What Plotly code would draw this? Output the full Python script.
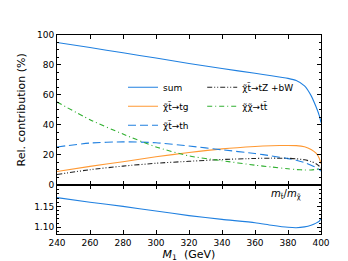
import plotly.graph_objects as go
from plotly.subplots import make_subplots

# M1 grid (GeV)
m1 = [240, 260, 280, 300, 320, 340, 360, 370, 380, 385, 390, 394, 397, 399, 400]

# relative contributions (%)
sum_pct = [95.0, 91.6, 88.1, 84.6, 81.0, 77.6, 74.4, 72.8, 71.0, 69.6, 66.0, 59.5, 52.0, 46.0, 41.5]
tg_pct = [8.8, 12.2, 15.3, 18.6, 21.5, 23.9, 25.5, 26.0, 26.2, 26.1, 25.3, 23.5, 21.0, 17.5, 14.0]
th_pct = [25.2, 27.8, 28.6, 28.0, 25.8, 23.3, 20.8, 19.2, 17.4, 16.3, 14.8, 13.0, 11.4, 10.0, 9.0]
tzbw_pct = [6.8, 10.0, 12.4, 14.3, 15.6, 16.8, 17.5, 17.7, 17.6, 17.3, 16.6, 15.5, 14.0, 12.3, 11.0]
tt_pct = [55.2, 43.4, 33.8, 25.2, 19.2, 16.0, 13.0, 11.8, 10.6, 10.1, 9.8, 9.8, 10.2, 10.6, 11.0]

# stop / neutralino mass ratio
ratio = [1.171, 1.160, 1.150, 1.139, 1.128, 1.119, 1.111, 1.105, 1.100, 1.099, 1.101, 1.105, 1.110, 1.115, 1.121]

BLUE = '#2080e0'
ORANGE = '#ff9933'
GREEN = '#30b030'
FONT = 'DejaVu Sans'

fig = make_subplots(rows=2, cols=1, shared_xaxes=True, vertical_spacing=0,
                    row_heights=[0.752, 0.248])

fig.add_trace(go.Scatter(x=m1, y=sum_pct, mode='lines', name='sum',
                         line=dict(color=BLUE, width=1.1, shape='spline', smoothing=0.6),
                         legend='legend'), row=1, col=1)
fig.add_trace(go.Scatter(x=m1, y=tg_pct, mode='lines', name='χ̃t̃→tg',
                         line=dict(color=ORANGE, width=1.1, shape='spline', smoothing=0.6),
                         legend='legend'), row=1, col=1)
fig.add_trace(go.Scatter(x=m1, y=th_pct, mode='lines', name='χ̃t̃→th',
                         line=dict(color=BLUE, width=1.1, dash='8px,4px', shape='spline', smoothing=0.6),
                         legend='legend'), row=1, col=1)
fig.add_trace(go.Scatter(x=m1, y=tzbw_pct, mode='lines', name='χ̃t̃→tZ +bW',
                         line=dict(color='#222222', width=1.1, dash='5px,2px,1px,2px,1px,2px',
                                   shape='spline', smoothing=0.6),
                         legend='legend2'), row=1, col=1)
fig.add_trace(go.Scatter(x=m1, y=tt_pct, mode='lines', name='χ̃χ̃→tt̄',
                         line=dict(color=GREEN, width=1.1, dash='5px,3px,1px,3px', shape='spline', smoothing=0.6),
                         legend='legend2'), row=1, col=1)

fig.add_trace(go.Scatter(x=m1, y=ratio, mode='lines', showlegend=False,
                         line=dict(color=BLUE, width=1.1, shape='spline', smoothing=0.6)), row=2, col=1)

axis_common = dict(showline=True, linecolor='black', linewidth=1, mirror='allticks',
                   ticks='inside', ticklen=4, tickcolor='black', showgrid=False, zeroline=False,
                   tickfont=dict(family=FONT, size=9, color='black'))

fig.update_xaxes(range=[240, 400], tickvals=[240, 260, 280, 300, 320, 340, 360, 380, 400], **axis_common)
fig.update_xaxes(showticklabels=False, row=1, col=1)
fig.update_xaxes(title=dict(text='<i>M</i><sub>1</sub>  (GeV)', font=dict(family=FONT, size=11, color='black'),
                            standoff=2), row=2, col=1)

fig.update_yaxes(range=[0, 100], tickvals=[0, 20, 40, 60, 80, 100],
                 minor=dict(dtick=5, ticks='inside', ticklen=2, tickcolor='black'),
                 title=dict(text='Rel. contribution (%)', font=dict(family=FONT, size=11, color='black'),
                            standoff=9),
                 row=1, col=1, **axis_common)
fig.update_yaxes(range=[1.084, 1.202], tickvals=[1.10, 1.15], tickformat='.2f',
                 minor=dict(dtick=0.01, tick0=1.0, ticks='inside', ticklen=2, tickcolor='black'),
                 row=2, col=1, **axis_common)

fig.add_annotation(text='<i>m</i><sub>t̃</sub>/<i>m</i><sub>χ̃</sub>', xref='x2 domain', yref='y2 domain',
                   x=0.93, y=0.98, xanchor='right', yanchor='top', showarrow=False,
                   font=dict(family=FONT, size=10, color='black'))

legend_common = dict(bgcolor='rgba(0,0,0,0)', borderwidth=0, font=dict(family=FONT, size=9, color='black'),
                     xanchor='left', yanchor='top', itemwidth=30, tracegroupgap=0)

fig.update_layout(
    width=348, height=261,
    margin=dict(l=44, r=35, t=27, b=27),
    plot_bgcolor='white', paper_bgcolor='white',
    legend=dict(x=0.25, y=0.81, **legend_common),
    legend2=dict(x=0.55, y=0.81, **legend_common),
)

fig.write_html("out.html")
